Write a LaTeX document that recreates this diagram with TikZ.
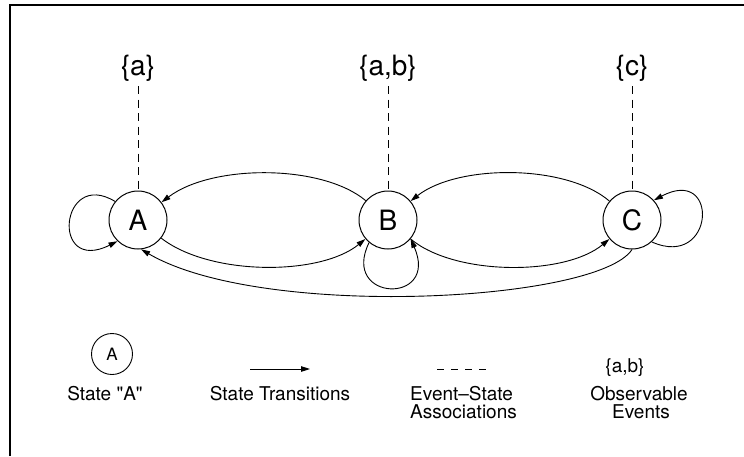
\documentclass[tikz,border=0pt]{standalone}
\usepackage{fontspec}
\setmainfont{TeX Gyre Heros}[Ligatures=TeXOff]
\usetikzlibrary{arrows.meta}
\begin{document}
\begin{tikzpicture}[x=1pt,y=-1pt,
  state/.style={circle,draw,line width=1pt,minimum size=58pt,inner sep=0pt,
    font=\fontsize{28}{32}\selectfont},
  smallstate/.style={circle,draw,line width=0.9pt,minimum size=41pt,inner sep=0pt,
    font=\fontsize{17}{20}\selectfont},
  events/.style={inner sep=0pt,font=\fontsize{28}{32}\selectfont},
  legendtext/.style={inner sep=0pt,align=center,font=\fontsize{19}{19}\selectfont},
  trans/.style={line width=0.9pt,-{Triangle[length=9pt,width=5.5pt]}},
  assoc/.style={line width=1pt,dash pattern=on 8pt off 5.5pt}]
\useasboundingbox (0,0) rectangle (744,456);
% frame
\draw[line width=1.3pt] (10,456) -- (10,5) -- (744,5);

% states
\node[state] (A) at (138,220) {A};
\node[state] (B) at (388,220) {B};
\node[state] (C) at (632,220) {C};

% observable events and their associations
\node[events] (ea) at (138,68) {\{a\}};
\node[events] (eb) at (388,68) {\{a,b\}};
\node[events] (ec) at (632,68) {\{c\}};
\coordinate (da) at (138,86);
\coordinate (db) at (388,86);
\coordinate (dc) at (632,86);
\draw[assoc] (da) -- (A.north);
\draw[assoc] (db) -- (B.north);
\draw[assoc] (dc) -- (C.north);

% transitions
\draw[trans] (B.139) .. controls (322,164) and (212,164) .. (A.37);
\draw[trans] (A.-38) .. controls (210,276) and (320,276) .. (B.-140);
\draw[trans] (C.140) .. controls (566,164) and (458,164) .. (B.40);
\draw[trans] (B.-40) .. controls (455,276) and (565,276) .. (C.-140);
\draw[trans] (C.south) .. controls (598,302) and (262,320) .. (A.-84);
% self loops
\draw[trans] (A.141) .. controls (60,168) and (50,275) .. (A.-134);
\draw[trans] (B.-130) .. controls (340,302) and (440,305) .. (B.-40);
\draw[trans] (C.-48) .. controls (715,270) and (720,165) .. (C.42);

% legend
\node[smallstate] (LA) at (112,354) {A};
\node[legendtext,anchor=base] (LAt) at (105,400) {State "A"};
\coordinate (lt1) at (250,369);
\coordinate (lt2) at (310,369);
\draw[trans] (lt1) -- (lt2);
\node[legendtext,anchor=base] (LTt) at (280,400) {State Transitions};
\coordinate (ld1) at (437,369);
\coordinate (ld2) at (486,369);
\draw[line width=1pt,dash pattern=on 7pt off 7pt] (ld1) -- (ld2);
\node[legendtext,anchor=base west] (LDt) at (410,400) {Event–State};
\node[legendtext,anchor=base west] (LDt2) at (410,418) {Associations};
\node[legendtext] (LE) at (625,368) {\{a,b\}};
\node[legendtext,anchor=base] (LEt) at (639,400) {Observable};
\node[legendtext,anchor=base] (LEt2) at (641,418) {Events};
\end{tikzpicture}
\end{document}
